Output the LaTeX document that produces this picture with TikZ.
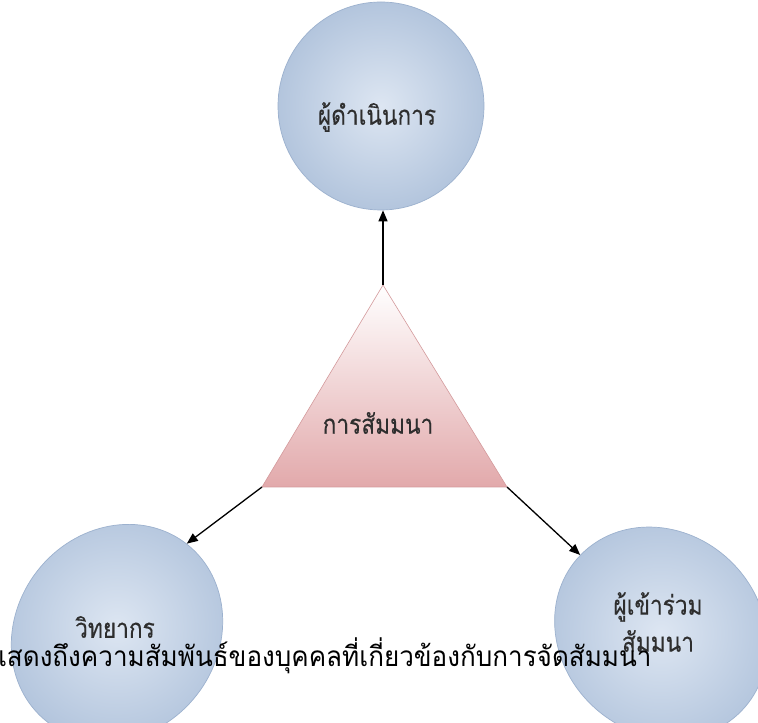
\documentclass[tikz,border=0pt]{standalone}
\usepackage{fontspec}
\newfontfamily\thai[Script=Thai,FakeStretch=0.84,FakeBold=0.3]{Loma}
\newfontfamily\thaicap[Script=Thai,FakeStretch=0.93]{Loma}
\usetikzlibrary{shapes.geometric,arrows.meta}
\definecolor{sphin}{HTML}{DDE6F2}
\definecolor{sphout}{HTML}{B3C5DD}
\definecolor{sphline}{HTML}{9CB1CE}
\definecolor{tripink}{HTML}{E2A9AB}
\definecolor{triline}{HTML}{D49A9C}
\definecolor{lbltext}{HTML}{2E2E2E}
\tikzset{
  sphere/.style={ellipse, draw=sphline, line width=0.7pt, inner color=sphin, outer color=sphout, inner sep=0pt},
  lbl/.style={font=\thai\fontsize{27}{37}\selectfont, text=lbltext, align=center},
  arr/.style={line width=1.3pt, -{Triangle[length=11pt,width=9pt]}},
}
\begin{document}
\begin{tikzpicture}[x=1pt,y=1pt]
\useasboundingbox (0,0) rectangle (758,723);
\clip (0,0) rectangle (758,723);
\fill[white] (0,0) rectangle (758,723);
% spheres
\node[sphere, minimum width=206pt, minimum height=208pt] (top) at (381,617) {};
\node[sphere, rotate=52, minimum width=226pt, minimum height=202pt] (vit) at (117,90) {};
\node[sphere, rotate=136, minimum width=224pt, minimum height=200pt] (par) at (661,90) {};
% triangle
\coordinate (tA) at (383,438);
\coordinate (tL) at (262,236);
\coordinate (tR) at (507,236);
\path[draw=triline, line width=0.6pt, top color=white, bottom color=tripink] (tA) -- (tL) -- (tR) -- cycle;
% labels
\node[lbl] (topt) at (377,606) {ผู้ดำเนินการ};
\node[lbl] (trit) at (378,300) {การสัมมนา};
\node[lbl] (vitt) at (115,96) {วิทยากร};
\node[lbl] (part) at (658,101) {ผู้เข้าร่วม\\สัมมนา};
% arrows
\draw[arr] (tA) -- (tA |- top.south);
\draw[arr] (tL) -- (vit.east);
\draw[arr] (tR) -- (par.east);
% caption
\node[anchor=base west, inner sep=0pt, font=\thaicap\fontsize{28}{32}\selectfont] (cap) at (-10,56) {แสดงถึงความสัมพันธ์ของบุคคลที่เกี่ยวข้องกับการจัดสัมมนา};
\end{tikzpicture}
\end{document}
